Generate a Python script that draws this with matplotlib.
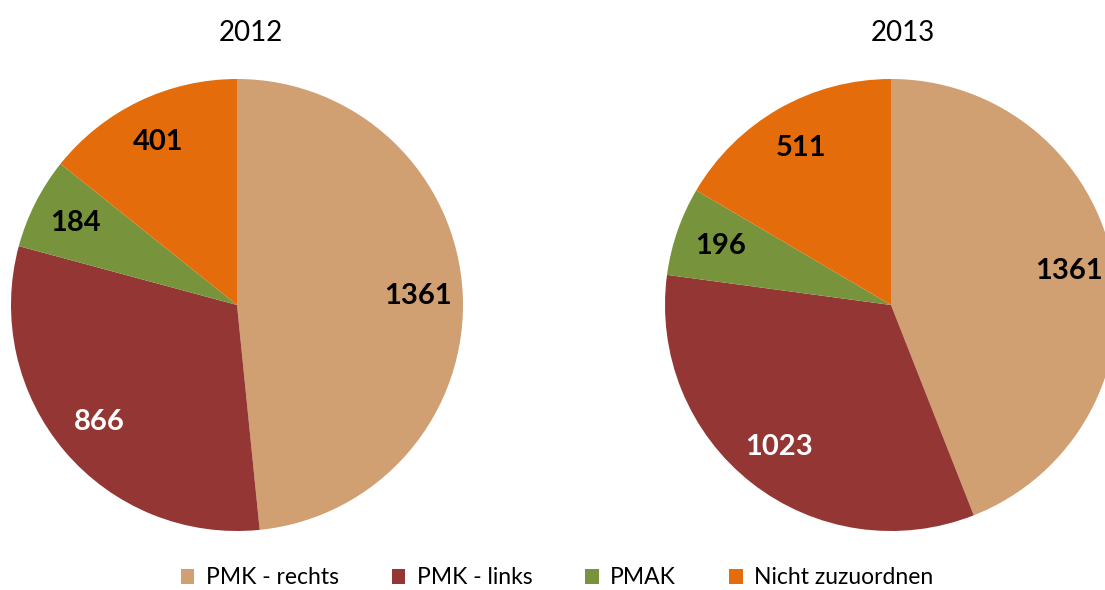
import matplotlib.pyplot as plt
import numpy as np

# data
categories = ['PMK - rechts', 'PMK - links', 'PMAK', 'Nicht zuzuordnen']
years = ['2012', '2013']
values_2012 = [1361, 866, 184, 401]
values_2013 = [1361, 1023, 196, 511]

colors = ['#D09F72', '#943634', '#77933C', '#E46C0A']
label_colors = ['black', 'white', 'black', 'black']

plt.rcParams['font.family'] = ['Lato', 'DejaVu Sans']

W, H = 1105, 590
fig = plt.figure(figsize=(W / 100, H / 100), dpi=100)
ax = fig.add_axes([0, 0, 1, 1])

# pie layout in pixel coordinates (y up)
radius = 226
centers = [(237, H - 305), (891, H - 305)]
title_x = [251, 903]

wedges_all = []
for vals, year, c, tx in zip([values_2012, values_2013], years, centers, title_x):
    wedges, _ = ax.pie(vals, colors=colors, startangle=90, counterclock=False,
                       radius=radius, center=c, wedgeprops=dict(linewidth=0))
    wedges_all.append(wedges)
    # value labels
    for w, v, lc in zip(wedges, vals, label_colors):
        ang = np.deg2rad((w.theta1 + w.theta2) / 2)
        r = 0.80 * radius
        ax.text(c[0] + r * np.cos(ang), c[1] + r * np.sin(ang), str(v),
                ha='center', va='center', fontsize=21, fontweight='bold', color=lc)
    ax.text(tx, H - 33, year, ha='center', va='center', fontsize=20, color='black')

ax.set_xlim(0, W)
ax.set_ylim(0, H)
ax.set_aspect('auto')
ax.axis('off')

fig.legend(wedges_all[0], categories, loc='center', bbox_to_anchor=(557 / W, 12 / H),
           ncol=4, frameon=False, fontsize=16.5, handlelength=0.6, handleheight=0.6,
           handletextpad=0.5, columnspacing=2.3)

fig.savefig('out.png', dpi=100)
